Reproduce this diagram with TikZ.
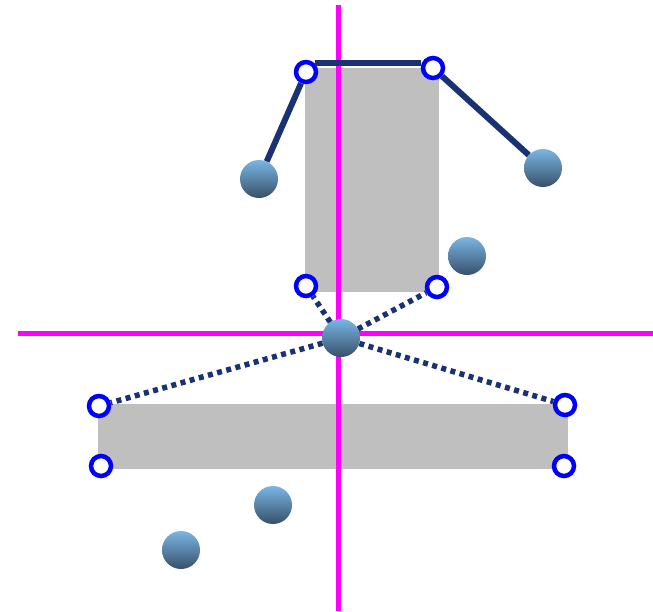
\documentclass[tikz,border=0pt]{standalone}
\usepackage{tikz}
\usetikzlibrary{positioning}

\definecolor{navy}{RGB}{26,50,115}
\definecolor{axis}{RGB}{255,0,255}
\definecolor{ballhi}{RGB}{122,182,228}
\definecolor{balllo}{RGB}{55,80,105}

\begin{document}
\begin{tikzpicture}[x=1pt, y=-1pt,
    ball/.style={circle, minimum size=38pt, inner sep=0pt, top color=ballhi, bottom color=balllo},
    pin/.style={circle, draw=blue, line width=4.5pt, fill=white, minimum size=20pt, inner sep=0pt},
    link/.style={navy, line width=6pt},
    dotlink/.style={navy, line width=5.5pt, dash pattern=on 5pt off 4.5pt}]
    \useasboundingbox (0,0) rectangle (653,611);
    % plates and axes
    \fill[gray!50] (305,68) rectangle (439,292);
    \fill[gray!50] (98,404) rectangle (568,469);
    \draw[axis, line width=5pt] (338,5) -- (338,611);
    \draw[axis, line width=5pt] (18,333) -- (653,333);

    \node[ball] (b1) at (259,179) {};
    \node[ball] (b2) at (543,168) {};
    \node[ball] (b3) at (467,256) {};
    \node[ball] (b0) at (341,338) {};
    \node[ball] (b4) at (273,505) {};
    \node[ball] (b5) at (181,550) {};

    \node[pin] (p1) at (306,72) {};
    \node[pin] (p2) at (433,68) {};
    \node[pin] (p3) at (306,286) {};
    \node[pin] (p4) at (437,287) {};
    \node[pin] (p5) at (99,406) {};
    \node[pin] (p6) at (565,405) {};
    \node[pin] (p7) at (101,466) {};
    \node[pin] (p8) at (564,466) {};

    \draw[link] (b1) -- (p1);
    \draw[link] (p1.45) -- (p2.west |- p1.45);
    \draw[link] (p2) -- (b2);
    \draw[dotlink] (b0) -- (p3);
    \draw[dotlink] (b0) -- (p4);
    \draw[dotlink] (b0) -- (p5);
    \draw[dotlink] (b0) -- (p6);
\end{tikzpicture}
\end{document}
